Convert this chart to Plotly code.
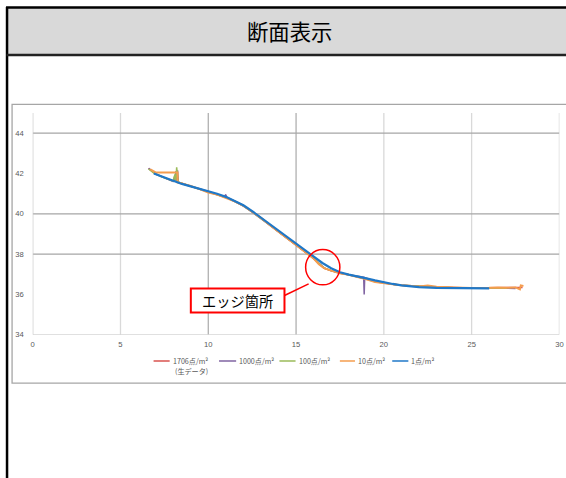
import plotly.graph_objects as go

# target picture size; the captured window is slightly larger, so the figure is
# sized to fill it and positions are given in target pixels
W, H = 566, 478
FW, FH = 576, 487
S = FW / W
OFF = 2.5

# ---------------- data ----------------
x_ticks = [0, 5, 10, 15, 20, 25, 30]
y_ticks = [34, 36, 38, 40, 42, 44]

names = ["1706点/m²", "1000点/m²", "100点/m²", "10点/m²", "1点/m²"]
colors = ["#d9534f", "#8064a2", "#9bbb59", "#f59d4e", "#1f78c8"]

raw_x = [6.6, 6.8, 7.0, 7.4, 7.8, 8.0, 8.1, 8.15, 8.2, 8.3, 8.6, 9.0, 9.5, 10.0, 10.5, 11.0,
         11.5, 12.0, 12.5, 13.0, 13.5, 14.0, 14.5, 15.0, 15.5, 16.0, 16.3, 16.6, 17.0, 17.5,
         18.0, 18.5, 19.0, 19.5, 20.0, 20.5, 21.0, 21.5, 22.0, 23.0, 24.0, 25.0, 26.0, 27.0, 27.9]
raw_y = [42.25, 42.1, 41.98, 41.83, 41.7, 41.62, 41.9, 41.6, 42.0, 41.56, 41.48, 41.37, 41.23,
         41.08, 40.96, 40.8, 40.62, 40.4, 40.1, 39.8, 39.45, 39.1, 38.78, 38.45, 38.12, 37.78,
         37.52, 37.3, 37.17, 37.05, 36.98, 36.88, 36.76, 36.63, 36.55, 36.5, 36.45, 36.42, 36.4,
         36.37, 36.33, 36.32, 36.33, 36.33, 36.35]

p1000_x = [6.6, 6.8, 7.0, 7.4, 7.8, 8.0, 8.1, 8.15, 8.2, 8.25, 8.3, 8.6, 9.0, 9.5, 10.0, 10.5,
           10.9, 11.0, 11.05, 11.5, 12.0, 12.5, 13.0, 13.5, 14.0, 14.5, 15.0, 15.5, 16.0, 16.3,
           16.6, 17.0, 17.5, 18.0, 18.5, 18.85, 18.88, 18.91, 19.5, 20.0, 20.5, 21.0, 22.0, 23.0,
           24.0, 25.0, 26.0, 27.0, 27.5]
p1000_y = [42.25, 42.1, 41.97, 41.82, 41.68, 41.6, 41.62, 42.1, 41.6, 42.15, 41.55, 41.48, 41.37,
           41.24, 41.1, 40.97, 40.85, 40.95, 40.82, 40.62, 40.38, 40.08, 39.78, 39.44, 39.1, 38.78,
           38.46, 38.13, 37.8, 37.55, 37.32, 37.18, 37.06, 36.98, 36.9, 36.86, 36.0, 36.84, 36.66,
           36.57, 36.5, 36.45, 36.4, 36.36, 36.33, 36.31, 36.31, 36.3, 36.3]

p100_x = [6.6, 6.9, 7.3, 7.7, 8.0, 8.1, 8.15, 8.2, 8.28, 8.6, 9.0, 9.5, 10.0, 10.5, 11.0, 11.5,
          12.0, 12.5, 13.0, 13.5, 14.0, 14.5, 15.0, 15.5, 16.0, 16.3, 16.6, 17.0, 17.5, 18.0,
          18.5, 19.0, 19.5, 20.0, 20.5, 21.0, 22.0, 23.0, 24.0, 25.0, 26.0, 27.0]
p100_y = [42.22, 42.02, 41.85, 41.72, 41.62, 41.95, 41.6, 42.3, 41.58, 41.48, 41.37, 41.24, 41.1,
          40.97, 40.81, 40.62, 40.39, 40.09, 39.78, 39.45, 39.11, 38.79, 38.47, 38.14, 37.81,
          37.54, 37.31, 37.18, 37.06, 36.98, 36.89, 36.78, 36.66, 36.57, 36.5, 36.45, 36.4, 36.36,
          36.33, 36.32, 36.31, 36.31]

p10_x = [6.7, 7.0, 8.25, 8.25, 8.5, 9.0, 9.5, 10.0, 10.5, 11.0, 11.5, 12.0, 12.5, 13.0, 13.5,
         14.0, 14.5, 15.0, 15.5, 16.0, 16.3, 16.6, 17.0, 17.5, 18.0, 18.5, 19.0, 19.5, 20.0,
         20.5, 21.0, 21.5, 22.0, 22.5, 23.0, 24.0, 25.0, 26.0, 26.5, 27.0, 27.5, 27.75, 27.8, 27.95]
p10_y = [42.2, 42.05, 42.05, 41.55, 41.5, 41.38, 41.22, 41.05, 40.95, 40.8, 40.62, 40.4, 40.1,
         39.8, 39.45, 39.1, 38.78, 38.45, 38.12, 37.78, 37.5, 37.3, 37.18, 37.05, 36.98, 36.88,
         36.75, 36.62, 36.55, 36.5, 36.45, 36.43, 36.4, 36.44, 36.38, 36.35, 36.32, 36.33, 36.35,
         36.33, 36.35, 36.25, 36.45, 36.42]

p1_x = [6.9, 7.5, 8.0, 8.5, 9.0, 9.5, 10.0, 10.5, 11.0, 11.5, 12.0, 12.5, 13.0, 13.5, 14.0,
        14.5, 15.0, 15.5, 16.0, 16.5, 17.0, 17.5, 18.0, 18.5, 19.0, 19.5, 20.0, 20.5, 21.0,
        21.5, 22.0, 23.0, 24.0, 25.0, 26.0]
p1_y = [42.0, 41.8, 41.62, 41.48, 41.36, 41.24, 41.12, 40.99, 40.84, 40.65, 40.42, 40.13, 39.81,
        39.48, 39.15, 38.82, 38.49, 38.17, 37.86, 37.56, 37.3, 37.1, 36.98, 36.9, 36.8, 36.7,
        36.6, 36.52, 36.45, 36.4, 36.36, 36.33, 36.31, 36.3, 36.3]

series_x = [raw_x, p1000_x, p100_x, p10_x, p1_x]
series_y = [raw_y, p1000_y, p100_y, p10_y, p1_y]
widths = [1.5, 1.5, 1.5, 2.0, 2.2]

# ---------------- helpers (target pixel -> paper) ----------------
def px(x):
    return (x - OFF) / W

def py(y):
    return 1 - y / H

fig = go.Figure()
for nm, xs, ys, c, w in zip(names, series_x, series_y, colors, widths):
    fig.add_trace(go.Scatter(x=xs, y=ys, mode="lines", name=nm,
                             line=dict(color=c, width=w), showlegend=False,
                             hoverinfo="skip"))

shapes = []
# outer black frame & header
shapes.append(dict(type="rect", xref="paper", yref="paper", x0=px(8), x1=px(580), y0=py(54), y1=py(8),
                   fillcolor="#d9d9d9", line=dict(width=0), layer="below"))
shapes.append(dict(type="line", xref="paper", yref="paper", x0=px(6.5), x1=px(580), y0=py(7.5), y1=py(7.5),
                   line=dict(color="#000", width=2.5)))
shapes.append(dict(type="line", xref="paper", yref="paper", x0=px(7.5), x1=px(7.5), y0=py(7), y1=py(490),
                   line=dict(color="#000", width=2.5)))
shapes.append(dict(type="line", xref="paper", yref="paper", x0=px(7), x1=px(580), y0=py(54.5), y1=py(54.5),
                   line=dict(color="#222", width=2.5)))
# chart frame
shapes.append(dict(type="rect", xref="paper", yref="paper", x0=px(12.5), x1=px(590), y0=py(380), y1=py(103.5),
                   line=dict(color="#a6a6a6", width=1.3), layer="below"))
# vertical gridlines
for xv in x_ticks[1:]:
    col = "#b0b0b0" if xv in (10, 15) else "#d9d9d9"
    shapes.append(dict(type="line", xref="x", yref="y", x0=xv, x1=xv, y0=34, y1=45,
                       line=dict(color=col, width=1.3), layer="below"))
# horizontal gridlines (visible ones)
for yv in [38, 40, 44]:
    shapes.append(dict(type="line", xref="x", yref="y", x0=0, x1=30, y0=yv, y1=yv,
                       line=dict(color="#a6a6a6", width=1.2), layer="below"))
# axis lines
shapes.append(dict(type="line", xref="x", yref="y", x0=0, x1=30, y0=34, y1=34,
                   line=dict(color="#c8c8c8", width=1.3), layer="below"))
shapes.append(dict(type="line", xref="x", yref="y", x0=0, x1=0, y0=34, y1=45,
                   line=dict(color="#c8c8c8", width=1.3), layer="below"))
# callout circle, leader, box
shapes.append(dict(type="circle", xref="paper", yref="paper", x0=px(304), x1=px(338), y0=py(282.5), y1=py(247.5),
                   line=dict(color="#ff0000", width=1.5)))
shapes.append(dict(type="line", xref="paper", yref="paper", x0=px(283), x1=px(307), y0=py(293), y1=py(281.5),
                   line=dict(color="#ff0000", width=1.5)))
shapes.append(dict(type="rect", xref="paper", yref="paper", x0=px(190), x1=px(283), y0=py(310), y1=py(286),
                   fillcolor="#ffffff", line=dict(color="#ff0000", width=2)))

annotations = []
annotations.append(dict(text="断面表示", xref="paper", yref="paper", x=px(288), y=py(30),
                        showarrow=False, xanchor="center", yanchor="middle",
                        font=dict(family="Noto Sans CJK JP", size=21 * S, color="#000")))
annotations.append(dict(text="エッジ箇所", xref="paper", yref="paper", x=px(236.5), y=py(298),
                        showarrow=False, xanchor="center", yanchor="middle",
                        font=dict(family="Noto Sans CJK JP", size=14 * S, color="#000")))

# manual legend
leg_line_x = [(153, 169), (218, 235), (278, 294), (338, 353), (390, 406)]
leg_y = 358
for (a, b), nm, c in zip(leg_line_x, names, colors):
    shapes.append(dict(type="line", xref="paper", yref="paper", x0=px(a), x1=px(b), y0=py(leg_y), y1=py(leg_y),
                       line=dict(color=c, width=1.5)))
    annotations.append(dict(text=nm, xref="paper", yref="paper", x=px(b + 1), y=py(leg_y),
                            showarrow=False, xanchor="left", yanchor="middle",
                            font=dict(family="Noto Sans CJK JP", size=7 * S, color="#595959")))
annotations.append(dict(text="(生データ)", xref="paper", yref="paper", x=px(172), y=py(368),
                        showarrow=False, xanchor="left", yanchor="middle",
                        font=dict(family="Noto Sans CJK JP", size=7 * S, color="#595959")))

fig.update_layout(
    width=FW, height=FH, margin=dict(l=0, r=0, t=0, b=0),
    paper_bgcolor="#ffffff", plot_bgcolor="rgba(0,0,0,0)",
    xaxis=dict(domain=[px(33), px(556)], range=[0, 30], tickvals=x_ticks,
               showgrid=False, zeroline=False, showline=False, ticks="",
               ticklabelstandoff=4,
               tickfont=dict(family="Liberation Sans", size=7.5 * S, color="#595959")),
    yaxis=dict(domain=[py(332), py(112)], range=[34, 45], tickvals=y_ticks,
               showgrid=False, zeroline=False, showline=False, ticks="",
               ticklabelstandoff=8,
               tickfont=dict(family="Liberation Sans", size=7.5 * S, color="#595959")),
    shapes=shapes, annotations=annotations, showlegend=False,
)

fig.write_html("out.html")
